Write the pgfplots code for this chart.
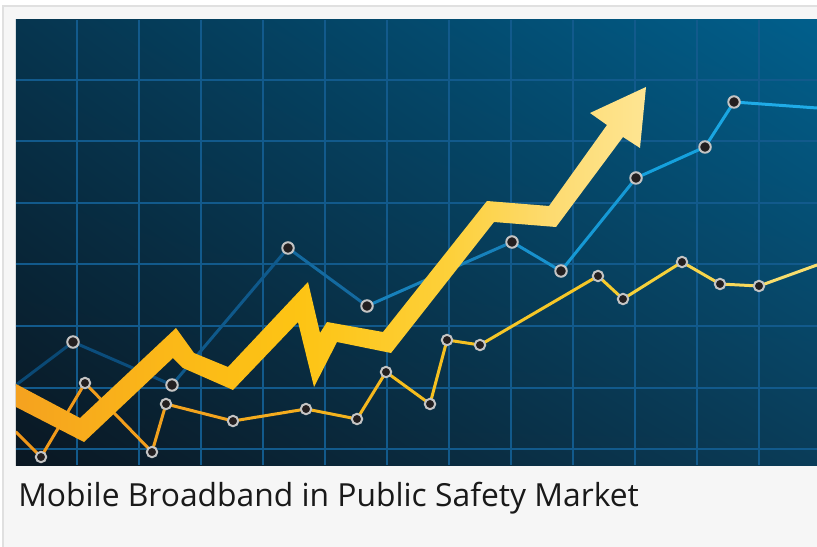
\documentclass[border=0pt]{standalone}
\usepackage{pgfplots}
\pgfplotsset{compat=1.18}
\usetikzlibrary{shadings}
\usepackage{fontspec}
\setmainfont{Open Sans}
\definecolor{pagebg}{HTML}{F6F6F6}
\definecolor{borderc}{HTML}{E0E0E0}
\definecolor{gridc}{HTML}{125A8C}
\definecolor{bgLL}{HTML}{0A1722}
\definecolor{bgUL}{HTML}{06354F}
\definecolor{bgUR}{HTML}{015F8C}
\definecolor{bgLR}{HTML}{0A3C58}
\definecolor{markfill}{HTML}{231F20}
\definecolor{markring}{HTML}{C4C4C4}
\definecolor{arA}{HTML}{F5A21F}
\definecolor{arB}{HTML}{FBB818}
\definecolor{arC}{HTML}{FDC414}
\definecolor{arD}{HTML}{FDD03A}
\definecolor{arE}{HTML}{FDDB70}
\definecolor{arF}{HTML}{FEE593}
\pgfdeclarehorizontalshading{arrowshade}{100bp}{color(0bp)=(arA); color(25bp)=(arA); color(37bp)=(arB); color(47.5bp)=(arC); color(59.4bp)=(arD); color(67.4bp)=(arE); color(75bp)=(arF); color(100bp)=(arF)}
\begin{document}
\begin{tikzpicture}[x=0.75pt,y=0.75pt]
\useasboundingbox (0,0) rectangle (817,546);
\fill[white] (0,0) rectangle (817,546);
\filldraw[fill=pagebg, draw=borderc, line width=1.5pt] (3,-10) rectangle (830,540);
\begin{axis}[
  at={(12pt,60.75pt)}, anchor=south west,
  scale only axis, width=600.75pt, height=333.75pt,
  xmin=16, xmax=817, ymin=20, ymax=465, y dir=reverse,
  axis line style={draw=none},
  xtick={77,139,201,263,325,387,449,511,573,635,697,759},
  ytick={80,141.5,203,264.5,326,387.5,449},
  xticklabels={}, yticklabels={},
  major tick length=0pt,
  grid=major,
  grid style={gridc, line width=1.5pt},
  axis background/.style={shade, lower left=bgLL, upper left=bgUL, upper right=bgUR, lower right=bgLR},
]
% blue line
\addplot[mesh, line width=2.25pt, line cap=round, point meta=x, point meta min=16, point meta max=817,
  colormap={bluel}{rgb255=(10,72,115) rgb255=(12,80,128) rgb255=(20,108,162) rgb255=(25,140,200) rgb255=(20,160,220) rgb255=(35,175,235)}]
  coordinates {(16,385) (73,342) (172,385) (288,248) (367,306) (512,242) (561,271) (636,178) (705,147) (734,102) (817,108)};
% orange line
\addplot[mesh, line width=2.25pt, line cap=round, point meta=x, point meta min=16, point meta max=817,
  colormap={orangel}{rgb255=(240,150,25) rgb255=(243,165,30) rgb255=(245,190,30) rgb255=(246,205,45) rgb255=(248,225,120)}]
  coordinates {(16,432) (41,457) (85,383) (152,452) (166,404) (233,421) (306,409) (357,419) (386,372) (430,404) (447,340) (480,345) (598,276) (623,299) (682,262) (720,284) (759,286) (817,265)};
% blue markers
\addplot[only marks, mark=*, mark size=4.3pt, mark options={fill=markfill, draw=markring, line width=1.5pt}]
  coordinates {(73,342) (172,385) (288,248) (367,306) (512,242) (561,271) (636,178) (705,147) (734,102)};
% orange markers
\addplot[only marks, mark=*, mark size=3.9pt, mark options={fill=markfill, draw=markring, line width=1.5pt}]
  coordinates {(41,457) (85,383) (152,452) (166,404) (233,421) (306,409) (357,419) (386,372) (430,404) (447,340) (480,345) (598,276) (623,299) (682,262) (720,284) (759,286)};
% big arrow
\addplot[draw=none, shading=arrowshade]
  coordinates {(16,384) (80,418) (176,328) (194,353) (228,367) (308,282) (320,333) (327,322) (383,332) (487,201) (549,206) (607,125) (590,113) (646,87) (640,148) (623,137) (556,227) (494,222) (391,353) (337,342) (314,387) (298,322) (233,390) (183,368) (173,358) (84,442) (16,407)};
\end{axis}
\node[anchor=base west, inner sep=0pt, text=black!90] at (18,40) {\fontsize{23.85pt}{28pt}\selectfont Mobile Broadband in Public Safety Market};
\end{tikzpicture}
\end{document}
